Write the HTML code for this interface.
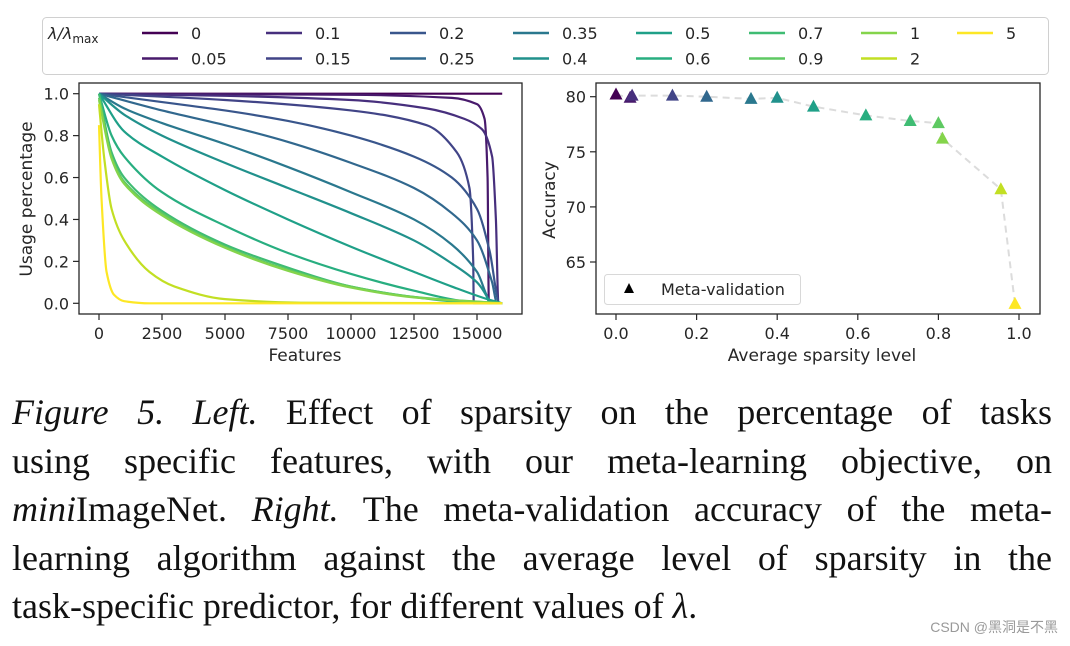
<!DOCTYPE html>
<html><head><meta charset="utf-8"><style>
body{margin:0;background:#fff;width:1070px;height:646px;overflow:hidden;position:relative;font-family:"DejaVu Sans","Liberation Sans",sans-serif}
#cap{position:absolute;left:12px;top:388px;width:1040px;font-family:"Liberation Serif",serif;font-size:36px;line-height:48.5px;color:#111}
#cap div{text-align:justify;text-align-last:justify;white-space:nowrap}
#cap div.last{text-align-last:left}
#wm{position:absolute;right:12px;top:617px;font-size:14px;color:#999;font-family:"Liberation Sans","Noto Sans CJK SC",sans-serif}
</style></head><body>
<svg id="svg" width="1070" height="646" style="position:absolute;left:0;top:0"></svg>
<div id="cap"><div><i>Figure 5. Left.</i> Effect of sparsity on the percentage of tasks</div><div>using specific features, with our meta-learning objective, on</div><div><i>mini</i>ImageNet. <i>Right.</i> The meta-validation accuracy of the meta-</div><div>learning algorithm against the average level of sparsity in the</div><div class="last">task-specific predictor, for different values of <i>λ</i>.</div></div>
<div id="wm">CSDN @黑洞是不黑</div>
<script>
const lambdas=["0","0.05","0.1","0.15","0.2","0.25","0.35","0.4","0.5","0.6","0.7","0.9","1","2","5"];
const colors=["#440154","#481a6c","#472f7d","#414487","#39568c","#31688e","#2a788e","#21918c","#1fa088","#28ae80","#3fbc73","#5ec962","#84d44b","#c2df23","#fde725"];
const curves=[
[[0,1],[16000,1]],
[[0,1],[10000,0.995],[14000,0.98],[15000,0.95],[15300,0.88],[15420,0.6],[15470,0],[16000,0]],
[[0,1],[5000,0.99],[10000,0.97],[13000,0.93],[14500,0.88],[15200,0.83],[15600,0.7],[15750,0.4],[15850,0],[16000,0]],
[[0,1],[5000,0.97],[10000,0.92],[13000,0.85],[14200,0.72],[14700,0.55],[14850,0.2],[14870,0],[16000,0]],
[[0,1],[2500,0.96],[5000,0.92],[7500,0.87],[10000,0.8],[12500,0.7],[14000,0.6],[15000,0.45],[15500,0.25],[15900,0],[16000,0]],
[[0,1],[2500,0.92],[5000,0.85],[7500,0.77],[10000,0.67],[12500,0.55],[14000,0.43],[15000,0.3],[15600,0.1],[15800,0],[16000,0]],
[[0,1],[1000,0.93],[2500,0.86],[5000,0.76],[7500,0.65],[10000,0.53],[12500,0.4],[14000,0.28],[15000,0.15],[15600,0],[16000,0]],
[[0,1],[1000,0.9],[2500,0.8],[5000,0.67],[7500,0.55],[10000,0.43],[12500,0.3],[14000,0.19],[15000,0.1],[15400,0.03],[15500,0],[16000,0]],
[[0,1],[1000,0.82],[2500,0.7],[5000,0.54],[7500,0.4],[10000,0.27],[12500,0.15],[14000,0.08],[15400,0.02],[16000,0]],
[[0,1],[500,0.8],[1000,0.7],[2500,0.53],[5000,0.37],[7500,0.24],[10000,0.14],[12500,0.06],[14500,0.01],[16000,0]],
[[0,1],[500,0.72],[1000,0.6],[2500,0.44],[5000,0.28],[7500,0.17],[10000,0.08],[12500,0.03],[14500,0.005],[16000,0]],
[[0,0.98],[500,0.7],[1000,0.58],[2500,0.43],[5000,0.27],[7500,0.16],[10000,0.08],[12500,0.03],[16000,0]],
[[0,0.97],[500,0.69],[1000,0.57],[2500,0.42],[5000,0.265],[7500,0.155],[10000,0.075],[12500,0.028],[16000,0]],
[[0,0.95],[200,0.7],[500,0.45],[1000,0.3],[2000,0.15],[3000,0.08],[5000,0.02],[8000,0.003],[16000,0]],
[[0,0.85],[100,0.5],[300,0.15],[600,0.04],[1000,0.01],[2000,0],[16000,0]]];
const sparsity=[0,0.035,0.04,0.14,0.225,0.335,0.40,0.49,0.62,0.73,0.80,0.81,0.955,0.99];
const accuracy=[80.2,79.9,80.1,80.1,80.0,79.8,79.9,79.1,78.3,77.8,77.6,76.2,71.6,61.2];
const ptColors=["#440154","#481a6c","#472f7d","#414487","#31688e","#2a788e","#21918c","#1fa088","#28ae80","#3fbc73","#5ec962","#84d44b","#c2df23","#fde725"];
const xTicksL=[0,2500,5000,7500,10000,12500,15000];
const yTicksL=[0,0.2,0.4,0.6,0.8,1.0];
const xTicksR=[0,0.2,0.4,0.6,0.8,1.0];
const yTicksR=[65,70,75,80];
const legendCols=[142,266,390,513,636,749,861,957];

const svg=document.getElementById('svg');const NS="http://www.w3.org/2000/svg";
function el(t,a,p){const e=document.createElementNS(NS,t);for(const k in a)e.setAttribute(k,a[k]);(p||svg).appendChild(e);return e;}
function monoPath(pts){const n=pts.length;if(n<3)return 'M'+pts.map(p=>p.join(',')).join('L');
const d=[],m=[];for(let i=0;i<n-1;i++)d.push((pts[i+1][1]-pts[i][1])/(pts[i+1][0]-pts[i][0]));
m[0]=d[0];m[n-1]=d[n-2];for(let i=1;i<n-1;i++){m[i]=(d[i-1]*d[i]<=0)?0:(2/(1/d[i-1]+1/d[i]));}
let s='M'+pts[0][0]+','+pts[0][1];for(let i=0;i<n-1;i++){const h=(pts[i+1][0]-pts[i][0])/3;
s+=`C${pts[i][0]+h},${pts[i][1]+m[i]*h} ${pts[i+1][0]-h},${pts[i+1][1]-m[i+1]*h} ${pts[i+1][0]},${pts[i+1][1]}`;}return s;}
const TC="#262626";
const lg=el('g',{});


el('rect',{x:42.5,y:17.5,width:1006,height:57,rx:4,fill:'#fff',stroke:'#d0d0d0'},lg);
const lt=el('text',{x:48,y:39,'font-size':16,fill:TC,'font-style':'italic'},lg);
lt.innerHTML='λ/λ<tspan font-style="normal" font-size="12" dy="4">max</tspan>';
lambdas.forEach((l,i)=>{const c=Math.floor(i/2),r=i%2;const x=legendCols[c],y=33+r*25.5;
const g=el('g',{},lg);


el('line',{x1:x,x2:x+36,y1:y,y2:y,stroke:colors[i],'stroke-width':2.5},g);
const t=el('text',{x:x+49,y:y+6,'font-size':16,fill:TC},g);t.textContent=l;});
const L={x0:79,x1:522,y0:83,y1:314};
const lx=v=>99+v*(378/15000), ly=v=>303.3-v*209.6;
const gl=el('g',{});


curves.forEach((c,i)=>{const p=el('path',{d:monoPath(c.map(q=>[lx(q[0]),ly(q[1])])),fill:'none',stroke:colors[i],'stroke-width':2.2,'stroke-linejoin':'round'},gl);

});
el('rect',{x:L.x0,y:L.y0,width:L.x1-L.x0,height:L.y1-L.y0,fill:'none',stroke:TC,'stroke-width':1.3},gl);
xTicksL.forEach(v=>{el('line',{x1:lx(v),x2:lx(v),y1:L.y1,y2:L.y1+6,stroke:TC,'stroke-width':1.2},gl);const t=el('text',{x:lx(v),y:L.y1+25,'font-size':16,fill:TC,'text-anchor':'middle'},gl);t.textContent=v;});
yTicksL.forEach(v=>{el('line',{x1:L.x0,x2:L.x0-6,y1:ly(v),y2:ly(v),stroke:TC,'stroke-width':1.2},gl);const t=el('text',{x:L.x0-10,y:ly(v)+6,'font-size':16,fill:TC,'text-anchor':'end'},gl);t.textContent=v.toFixed(1);});
let t=el('text',{x:305,y:361,'font-size':17,fill:TC,'text-anchor':'middle'},gl);t.textContent='Features';

t=el('text',{x:0,y:0,'font-size':17,fill:TC,'text-anchor':'middle',transform:'translate(32,199) rotate(-90)'},gl);t.textContent='Usage percentage';

const R={x0:596,x1:1040,y0:83,y1:314};
const rx=v=>616+v*403, ry=v=>96.7-(v-80)*11.02;
const gr=el('g',{});


el('polyline',{points:sparsity.map((s,i)=>rx(s)+','+ry(accuracy[i])).join(' '),fill:'none',stroke:'#dcdcdc','stroke-width':2,'stroke-dasharray':'7,5'},gr);
sparsity.forEach((s,i)=>{const x=rx(s),y=ry(accuracy[i]);const p=el('polygon',{points:`${x},${y-7} ${x-6.5},${y+5} ${x+6.5},${y+5}`,fill:ptColors[i]},gr);

});
el('rect',{x:R.x0,y:R.y0,width:R.x1-R.x0,height:R.y1-R.y0,fill:'none',stroke:TC,'stroke-width':1.3},gr);
xTicksR.forEach(v=>{el('line',{x1:rx(v),x2:rx(v),y1:R.y1,y2:R.y1+6,stroke:TC,'stroke-width':1.2},gr);const t=el('text',{x:rx(v),y:R.y1+25,'font-size':16,fill:TC,'text-anchor':'middle'},gr);t.textContent=v.toFixed(1);});
yTicksR.forEach(v=>{el('line',{x1:R.x0,x2:R.x0-6,y1:ry(v),y2:ry(v),stroke:TC,'stroke-width':1.2},gr);const t=el('text',{x:R.x0-10,y:ry(v)+6,'font-size':16,fill:TC,'text-anchor':'end'},gr);t.textContent=v;});
t=el('text',{x:822,y:361,'font-size':17,fill:TC,'text-anchor':'middle'},gr);t.textContent='Average sparsity level';

t=el('text',{x:0,y:0,'font-size':17,fill:TC,'text-anchor':'middle',transform:'translate(555,200) rotate(-90)'},gr);t.textContent='Accuracy';

const rl=el('g',{},gr);


el('rect',{x:604.5,y:274.5,width:196,height:30,rx:3,fill:'#fff',stroke:'#d8d8d8'},rl);
el('polygon',{points:'629,283 624,293 634,293',fill:'#000'},rl);
t=el('text',{x:661,y:295,'font-size':16,fill:TC},rl);t.textContent='Meta-validation';
</script>
</body></html>
